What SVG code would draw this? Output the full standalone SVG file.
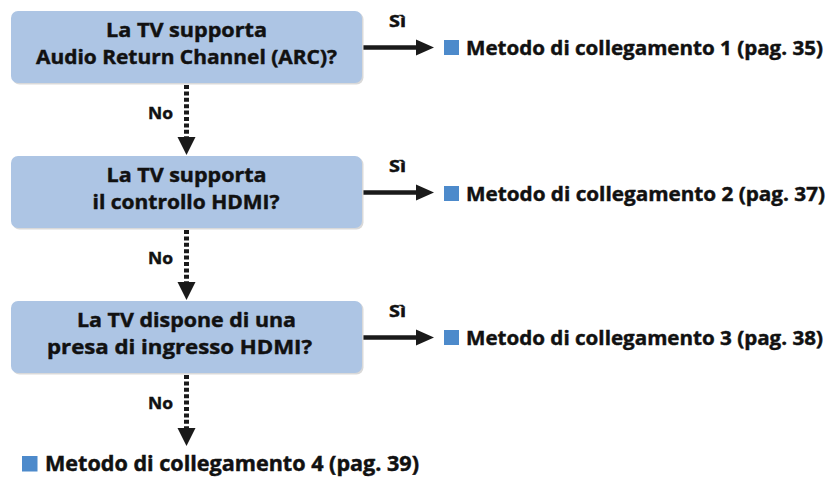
<svg xmlns="http://www.w3.org/2000/svg" width="829" height="477" viewBox="0 0 829 477">
<defs>
<style>
.box{fill:#adc5e4;}
.shadow{fill:#d9d9d9;}
.t{font-family:"Open Sans","Liberation Sans",sans-serif;font-weight:bold;fill:#111;stroke:#111;stroke-width:0.45;}
.q{font-size:20px;text-anchor:middle;}
.lbl{font-size:16px;}
.res{font-size:20px;}
.sq{fill:#4d8acb;}
.yes{stroke:#1a1a1a;stroke-width:4.5;fill:none;}
.no{stroke:#1a1a1a;stroke-width:5;fill:none;stroke-dasharray:4 2.4;}
.head{fill:#1a1a1a;}
</style>
</defs>
<g id="connectors">
<line class="yes" x1="362" y1="47.5" x2="418" y2="47.5"/>
<polygon class="head" points="416,39.5 434,47.5 416,55.5"/>
<line class="yes" x1="362" y1="192.5" x2="418" y2="192.5"/>
<polygon class="head" points="416,184.5 434,192.5 416,200.5"/>
<line class="yes" x1="362" y1="337.5" x2="418" y2="337.5"/>
<polygon class="head" points="416,329.5 434,337.5 416,345.5"/>
<line class="no" x1="186.5" y1="85" x2="186.5" y2="138"/>
<polygon class="head" points="177.5,137 195.5,137 186.5,155"/>
<line class="no" x1="186.5" y1="230" x2="186.5" y2="283"/>
<polygon class="head" points="177.5,282 195.5,282 186.5,300"/>
<line class="no" x1="186.5" y1="375" x2="186.5" y2="428"/>
<polygon class="head" points="177.5,428 195.5,428 186.5,446"/>
<text class="t lbl" x="389" y="27" textLength="17" lengthAdjust="spacingAndGlyphs">Sì</text>
<text class="t lbl" x="389" y="172" textLength="17" lengthAdjust="spacingAndGlyphs">Sì</text>
<text class="t lbl" x="389" y="317" textLength="17" lengthAdjust="spacingAndGlyphs">Sì</text>
<text class="t lbl" x="148" y="119" textLength="25" lengthAdjust="spacingAndGlyphs">No</text>
<text class="t lbl" x="148" y="264" textLength="25" lengthAdjust="spacingAndGlyphs">No</text>
<text class="t lbl" x="148" y="409" textLength="25" lengthAdjust="spacingAndGlyphs">No</text>
</g>
<g id="q1">
<rect class="shadow" x="12.5" y="12.5" width="351" height="72" rx="7"/>
<rect class="box" x="11" y="11" width="351" height="72" rx="7"/>
<text class="t q" x="186.5" y="37" textLength="161" lengthAdjust="spacingAndGlyphs">La TV supporta</text>
<text class="t q" x="186.5" y="64" textLength="301" lengthAdjust="spacingAndGlyphs">Audio Return Channel (ARC)?</text>
</g>
<g id="q2">
<rect class="shadow" x="12.5" y="157.5" width="351" height="72" rx="7"/>
<rect class="box" x="11" y="156" width="351" height="72" rx="7"/>
<text class="t q" x="186.5" y="182" textLength="160" lengthAdjust="spacingAndGlyphs">La TV supporta</text>
<text class="t q" x="186" y="209" textLength="187" lengthAdjust="spacingAndGlyphs">il controllo HDMI?</text>
</g>
<g id="q3">
<rect class="shadow" x="12.5" y="302.5" width="351" height="72" rx="7"/>
<rect class="box" x="11" y="301" width="351" height="72" rx="7"/>
<text class="t q" x="186.5" y="327" textLength="219" lengthAdjust="spacingAndGlyphs">La TV dispone di una</text>
<text class="t q" x="179.5" y="354" textLength="265" lengthAdjust="spacingAndGlyphs">presa di ingresso HDMI?</text>
</g>
<g id="r1">
<rect class="sq" x="444" y="40" width="15" height="15"/>
<text class="t res" x="466" y="55" textLength="357" lengthAdjust="spacingAndGlyphs">Metodo di collegamento 1 (pag. 35)</text>
</g>
<g id="r2">
<rect class="sq" x="444" y="186" width="15" height="15"/>
<text class="t res" x="466" y="201" textLength="359" lengthAdjust="spacingAndGlyphs">Metodo di collegamento 2 (pag. 37)</text>
</g>
<g id="r3">
<rect class="sq" x="444" y="330" width="15" height="15"/>
<text class="t res" x="466" y="345" textLength="357" lengthAdjust="spacingAndGlyphs">Metodo di collegamento 3 (pag. 38)</text>
</g>
<g id="r4">
<rect class="sq" x="22" y="456" width="15.5" height="15.5"/>
<text class="t" style="font-size:21px" x="45" y="471" textLength="374" lengthAdjust="spacingAndGlyphs">Metodo di collegamento 4 (pag. 39)</text>
</g>
</svg>
